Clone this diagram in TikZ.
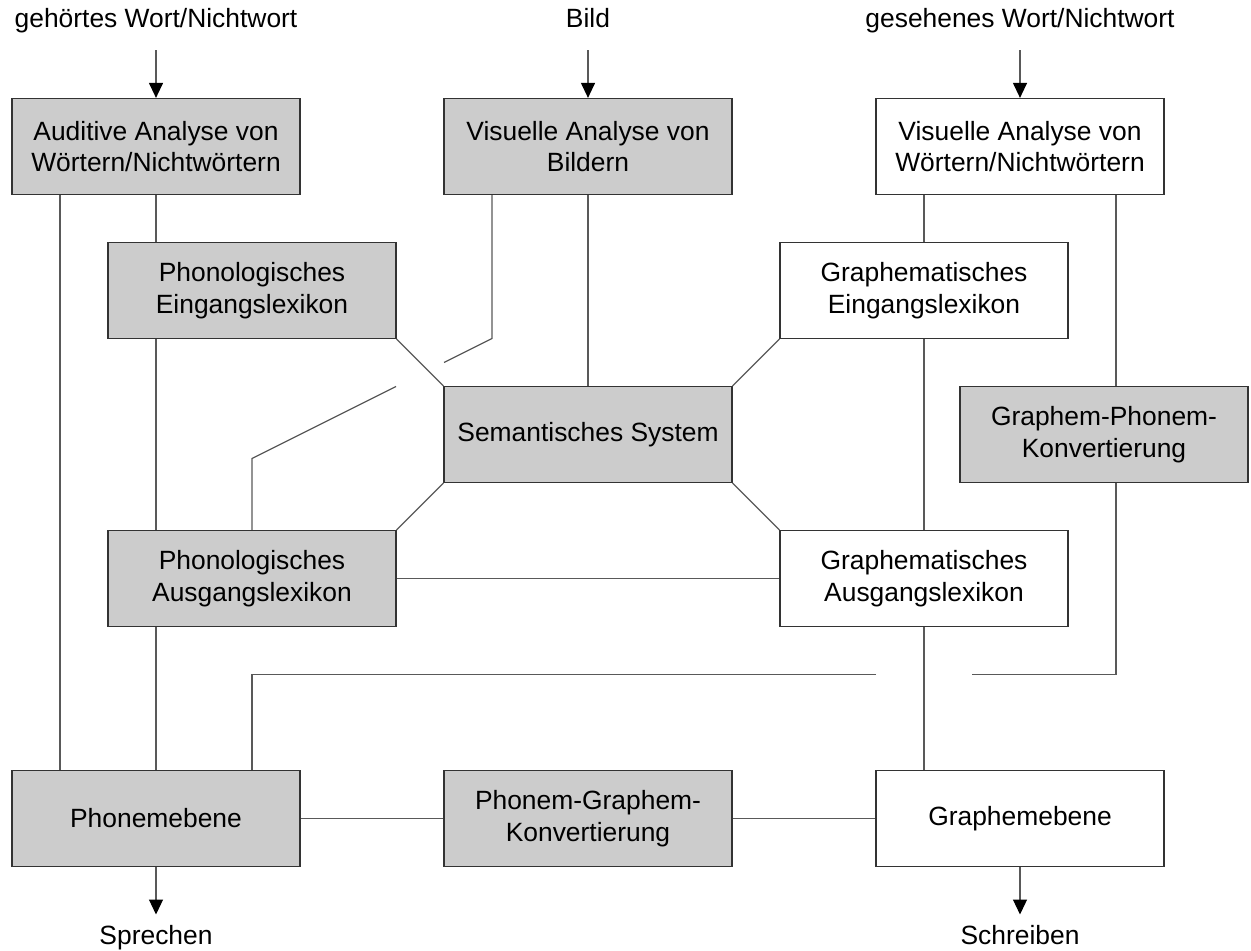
\documentclass[tikz,border=0pt]{standalone}
\usepackage{fontspec}
\setmainfont{Liberation Sans}
\usetikzlibrary{arrows.meta}
\tikzset{
  box/.style={rectangle, draw=black!80, line width=0.6pt, minimum width=144pt, minimum height=48pt, inner sep=0pt, align=center, font=\fontsize{13.2}{15.7}\selectfont},
  grey/.style={box, fill=black!20},
  plain/.style={box, fill=white},
  lbl/.style={anchor=base, inner sep=0pt, font=\fontsize{13.2}{15.7}\selectfont},
  conn/.style={draw=black!65, line width=0.6pt},
  arr/.style={conn, -{Triangle[width=7pt,length=7.5pt,black]}}
}
\begin{document}
\begin{tikzpicture}[x=24pt, y=-24pt]
\useasboundingbox (-0.25,-0.052) rectangle (25.8125,19.76);
% boxes
\node[grey] (aud) at (3,3) {Auditive Analyse von\\Wörtern/Nichtwörtern};
\node[grey] (visb) at (12,3) {Visuelle Analyse von\\Bildern};
\node[plain] (visw) at (21,3) {Visuelle Analyse von\\Wörtern/Nichtwörtern};
\node[grey] (phein) at (5,6) {Phonologisches\\Eingangslexikon};
\node[plain] (grein) at (19,6) {Graphematisches\\Eingangslexikon};
\node[grey] (sem) at (12,9) {Semantisches System};
\node[grey] (gpk) at (22.75,9) {Graphem-Phonem-\\Konvertierung};
\node[grey] (phaus) at (5,12) {Phonologisches\\Ausgangslexikon};
\node[plain] (graus) at (19,12) {Graphematisches\\Ausgangslexikon};
\node[grey] (phon) at (3,17) {Phonemebene};
\node[grey] (pgk) at (12,17) {Phonem-Graphem-\\Konvertierung};
\node[plain] (graph) at (21,17) {Graphemebene};
% in- and outputs
\node[lbl] (gehoert) at (3,0.52) {gehörtes Wort/Nichtwort};
\node[lbl] (bild) at (12,0.52) {Bild};
\node[lbl] (gesehen) at (21,0.52) {gesehenes Wort/Nichtwort};
\node[lbl] (sprechen) at (3,19.62) {Sprechen};
\node[lbl] (schreiben) at (21,19.62) {Schreiben};
\coordinate (audin) at (3,1);
\coordinate (visbin) at (12,1);
\coordinate (viswin) at (21,1);
\coordinate (phonout) at (3,19);
\coordinate (graphout) at (21,19);
\draw[arr] (audin) -- (aud.north);
\draw[arr] (visbin) -- (visb.north);
\draw[arr] (viswin) -- (visw.north);
\draw[arr] (phon.south) -- (phonout);
\draw[arr] (graph.south) -- (graphout);
% left side
\coordinate (audl) at ([xshift=-48pt]aud.south);
\draw[conn] (audl) -- (audl |- phon.north);
\draw[conn] (aud.south) -- (aud.south |- phein.north);
\draw[conn] (aud.south |- phein.south) -- (aud.south |- phaus.north);
\draw[conn] (aud.south |- phaus.south) -- (phon.north);
% picture route with gap
\coordinate (visbl) at ([xshift=-48pt]visb.south);
\coordinate (kink1) at (10,7);
\coordinate (gap1) at (9,7.5);
\coordinate (gap2) at (8,8);
\coordinate (kink2) at (5,9.5);
\draw[conn] (visbl) -- (kink1) -- (gap1);
\draw[conn] (gap2) -- (kink2) -- (phaus.north);
\draw[conn] (visb.south) -- (sem.north);
% semantic links
\draw[conn] (phein.south east) -- (sem.north west);
\draw[conn] (grein.south west) -- (sem.north east);
\draw[conn] (sem.south west) -- (phaus.north east);
\draw[conn] (sem.south east) -- (graus.north west);
\draw[conn] (phaus.east) -- (graus.west);
% right side
\draw[conn] (grein.north |- visw.south) -- (grein.north);
\draw[conn] (grein.south) -- (graus.north);
\draw[conn] (graus.south) -- (graus.south |- graph.north);
\coordinate (viswr) at ([xshift=48pt]visw.south);
\draw[conn] (viswr) -- (viswr |- gpk.north);
% bypass with gap
\coordinate (by1) at (20,14);
\coordinate (by2) at (18,14);
\coordinate (phonr) at ([xshift=48pt]phon.north);
\draw[conn] (viswr |- gpk.south) -- (viswr |- by1) -- (by1);
\draw[conn] (by2) -- (phonr |- by2) -- (phonr);
% bottom row
\draw[conn] (phon.east) -- (pgk.west);
\draw[conn] (pgk.east) -- (graph.west);
\end{tikzpicture}
\end{document}
